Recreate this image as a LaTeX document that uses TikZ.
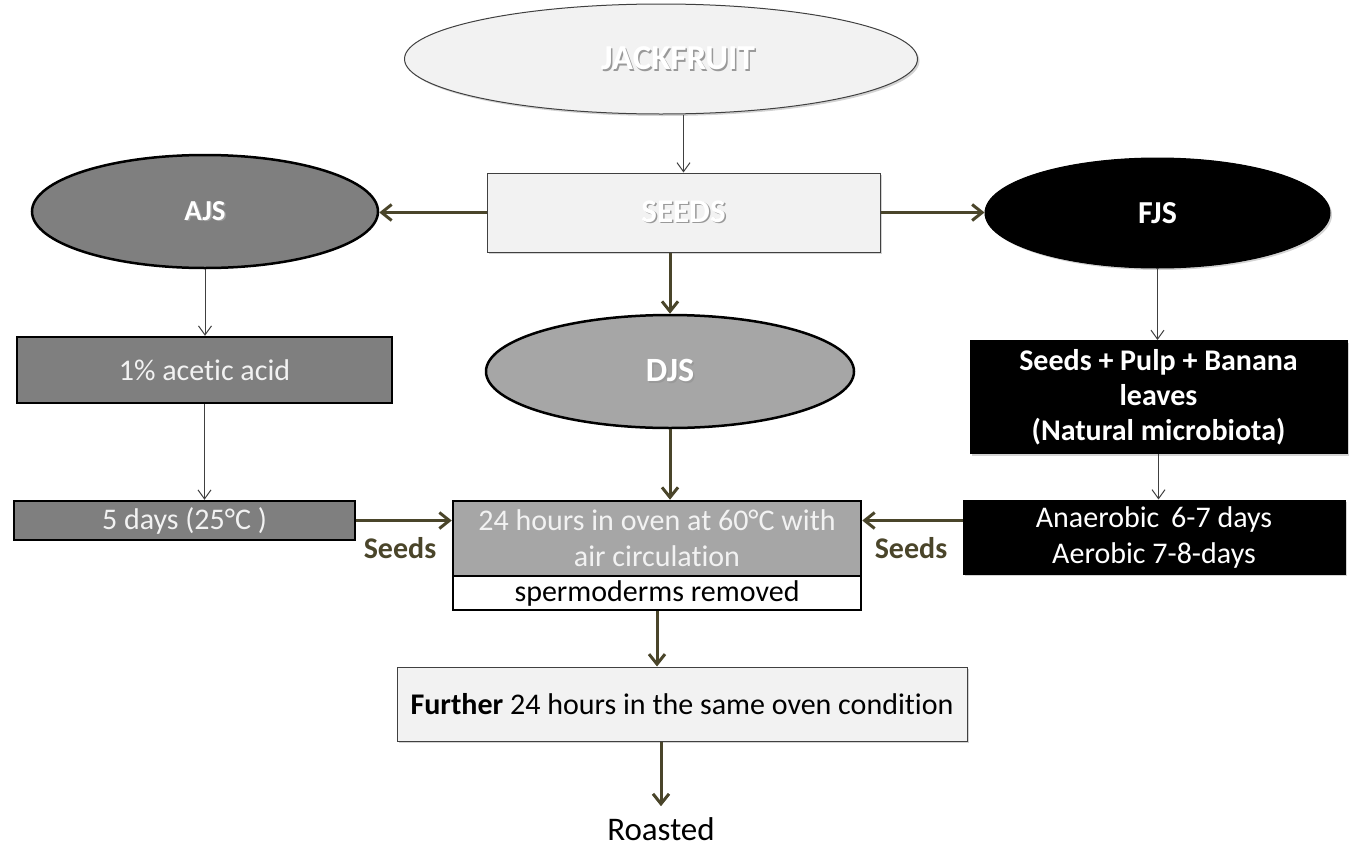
\documentclass[tikz,border=0pt]{standalone}
\usepackage{fontspec}
\setmainfont{Carlito}[Ligatures=NoCommon]
\usetikzlibrary{shapes.geometric,arrows.meta,shadows}

\definecolor{arrowolive}{RGB}{74,69,42}
\definecolor{darkline}{RGB}{64,64,64}
\definecolor{paleFill}{RGB}{242,242,242}
\definecolor{midGray}{RGB}{127,127,127}
\definecolor{lightGray}{RGB}{166,166,166}

% white lettering with a soft grey offset shadow
\newcommand\shtext[1]{\leavevmode\rlap{\hspace{1.5pt}\raisebox{-1.5pt}{\textcolor{black!40}{#1}}}#1}

\tikzset{
  base/.style={inner sep=0pt, align=center, font=\fontsize{30}{36}\selectfont},
  palebox/.style={base, rectangle, fill=paleFill, draw=darkline, line width=1pt,
    drop shadow={opacity=0.35, shadow xshift=2pt, shadow yshift=-2pt}},
  darkbox/.style={base, rectangle, draw=black, line width=2.5pt},
  blackbox/.style={base, rectangle, fill=black, draw=black, line width=1pt, text=white,
    drop shadow={opacity=0.35, shadow xshift=2pt, shadow yshift=-2pt}},
  oval/.style={base, ellipse, draw=black, line width=2.5pt, text=white},
  thick arrow/.style={draw=arrowolive, line width=3pt, -{Straight Barb[length=10pt,width=16pt]}},
  thin arrow/.style={draw=darkline, line width=1pt, -{Straight Barb[length=9pt,width=13pt]}},
  seedlabel/.style={base, text=arrowolive, font=\fontsize{30}{36}\selectfont\bfseries}
}

\begin{document}
\begin{tikzpicture}[x=1pt,y=-1pt]
\useasboundingbox (0,0) rectangle (1349,846);

% top of the flow
\node[palebox, ellipse, minimum width=513pt, minimum height=110pt, text=white,
      font=\fontsize{35}{40}\selectfont\bfseries] (jack) at (661,59) {\hspace*{34pt}\shtext{JACKFRUIT}};
\node[palebox, minimum width=393pt, minimum height=79pt, text=white,
      font=\fontsize{33}{38}\selectfont\bfseries] (seeds) at (683.5,212.5) {\shtext{SEEDS}};

% three treatments
\node[oval, fill=midGray, minimum width=346pt, minimum height=113pt,
      font=\fontsize{29}{34}\selectfont\bfseries] (ajs) at (205,211.5) {\shtext{AJS}};
\node[oval, fill=lightGray, minimum width=368pt, minimum height=113pt,
      font=\fontsize{34}{38}\selectfont\bfseries] (djs) at (670,371.5) {\shtext{DJS}};
\node[oval, fill=black, line width=1pt, minimum width=345pt, minimum height=110pt,
      drop shadow={opacity=0.35, shadow xshift=2pt, shadow yshift=-2pt},
      font=\fontsize{32}{36}\selectfont\bfseries] (fjs) at (1157.5,213) {FJS};

% acidified branch
\node[darkbox, fill=midGray, text=paleFill, minimum width=375pt, minimum height=66pt] (acetic) at (204.5,370) {1\% acetic acid};
\node[darkbox, fill=midGray, text=paleFill, minimum width=341pt, minimum height=39pt] (five) at (184.5,520.5) {5 days (25°C )};

% fermented branch
\node[blackbox, minimum width=377pt, minimum height=113pt,
      font=\fontsize{30}{35}\selectfont\bfseries] (pulp) at (1158.5,397) {Seeds + Pulp + Banana\\leaves\\ (Natural microbiota)};
\node[blackbox, minimum width=382pt, minimum height=74pt] (anaer) at (1154,537) {Anaerobic\, 6-7 days\\Aerobic 7-8-days};

% drying
\node[darkbox, fill=lightGray, text=paleFill, minimum width=408pt, minimum height=75pt] (oven) at (657,538.5) {24 hours in oven at 60°C with\\air circulation};
\node[darkbox, fill=white, text=black, minimum width=408pt, minimum height=34pt] (sperm) at (657,593) {spermoderms removed};
\node[palebox, minimum width=570pt, minimum height=74pt] (further) at (682,704) {\textbf{Further} 24 hours in the same oven condition};
\node[base, inner ysep=11pt, inner xsep=2pt, font=\fontsize{33}{38}\selectfont] (roast) at (661,829) {Roasted};

\node[seedlabel] (lblL) at (400,548) {Seeds};
\node[seedlabel] (lblR) at (911,548) {Seeds};

% connectors
\draw[thin arrow] (jack.south -| seeds.north) -- (seeds.north);
\draw[thick arrow] (seeds.west) -- (seeds.west -| ajs.east);
\draw[thick arrow] (seeds.east) -- (seeds.east -| fjs.west);
\draw[thick arrow] (seeds.south -| djs.north) -- (djs.north);
\draw[thin arrow] (ajs.south) -- (ajs.south |- acetic.north);
\draw[thin arrow] (acetic.south) -- (acetic.south |- five.north);
\draw[thin arrow] (fjs.south) -- (fjs.south |- pulp.north);
\draw[thin arrow] (pulp.south) -- (pulp.south |- anaer.north);
\draw[thick arrow] (djs.south) -- (djs.south |- oven.north);
\draw[thick arrow] (five.east) -- (five.east -| oven.west);
\draw[thick arrow] (anaer.west |- five.east) -- (five.east -| oven.east);
\draw[thick arrow] (sperm.south) -- (sperm.south |- further.north);
\draw[thick arrow] (further.south -| roast.north) -- (roast.north);
\end{tikzpicture}
\end{document}
